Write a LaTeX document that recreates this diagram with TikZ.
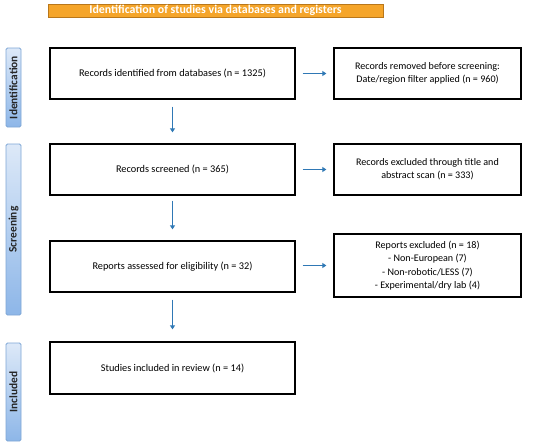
\documentclass[tikz,border=0pt]{standalone}
\usepackage{fontspec}
\setmainfont{Carlito}
\usetikzlibrary{arrows.meta}
\definecolor{arrblue}{HTML}{2F78B5}
\definecolor{titleorange}{HTML}{F5A52A}
\definecolor{titleborder}{HTML}{B9771A}
\definecolor{sideborder}{HTML}{7FA7D6}
\definecolor{sidetop}{HTML}{DDE9F8}
\definecolor{sidebot}{HTML}{8DB6E8}
\begin{document}
\begin{tikzpicture}[x=1pt,y=-1pt,
  mainbox/.style={draw=black,line width=1.3pt,fill=white,minimum width=245pt,minimum height=51pt,align=center,inner sep=2pt,font=\fontsize{10.3}{13.3}\selectfont},
  sidebox/.style={draw=black,line width=1.3pt,fill=white,minimum width=187pt,minimum height=51pt,align=center,inner sep=2pt,font=\fontsize{10.1}{13.3}\selectfont},
  phase/.style={draw=sideborder,line width=0.8pt,rounded corners=1.5pt,top color=sidetop,bottom color=sidebot,minimum width=15pt,inner sep=0pt},
  phasetext/.style={rotate=90,font=\bfseries\fontsize{11.4}{12}\selectfont,text=black!85},
  flow/.style={draw=arrblue,line width=1.5pt,-{Triangle[length=4pt,width=5pt]}}
]
\useasboundingbox (0,0) rectangle (550,447);
\fill[white] (0,0) rectangle (550,447);

\node[draw=titleborder,line width=0.6pt,fill=titleorange,minimum width=335pt,minimum height=13pt,inner sep=0pt,text=white,font=\bfseries\fontsize{11.9}{12}\selectfont] (title) at (215.5,10.5) {Identification of studies via databases and registers};

\node[phase,minimum height=79pt] (pid) at (13.5,87.5) {};
\node[phasetext] (tid) at (pid.center) {Identification};
\node[phase,minimum height=171pt] (psc) at (13.5,229.5) {};
\node[phasetext] (tsc) at (psc.center) {Screening};
\node[phase,minimum height=98pt] (pin) at (13.5,392) {};
\node[phasetext] (tin) at (pin.center) {Included};

\node[mainbox] (b1) at (172.5,73.5) {Records identified from databases (n = 1325)};
\node[sidebox] (r1) at (427.5,73.5) {Records removed before screening:\\Date/region filter applied (n = 960)};
\node[mainbox] (b2) at (172.5,169.5) {Records screened (n = 365)};
\node[sidebox] (r2) at (427.5,169.5) {Records excluded through title and\\abstract scan (n = 333)};
\node[mainbox] (b3) at (172.5,266.5) {Reports assessed for eligibility (n = 32)};
\node[sidebox,minimum height=63pt] (r3) at (427.5,265.5) {Reports excluded (n = 18)\\- Non-European (7)\\- Non-robotic/LESS (7)\\- Experimental/dry lab (4)};
\node[mainbox,minimum height=52pt] (b4) at (172.5,368) {Studies included in review (n = 14)};

\draw[flow,shorten <=7pt,shorten >=7pt] (b1.east) -- (r1.west);
\draw[flow,shorten <=7pt,shorten >=7pt] (b2.east) -- (r2.west);
\draw[flow,shorten <=7pt,shorten >=7pt] (b3.east |- r3.west) -- (r3.west);
\draw[flow,shorten <=7pt,shorten >=11pt] (b1.south) -- (b2.north);
\draw[flow,shorten <=5pt,shorten >=11pt] (b2.south) -- (b3.north);
\draw[flow,shorten <=7pt,shorten >=12pt] (b3.south) -- (b4.north);
\end{tikzpicture}
\end{document}
